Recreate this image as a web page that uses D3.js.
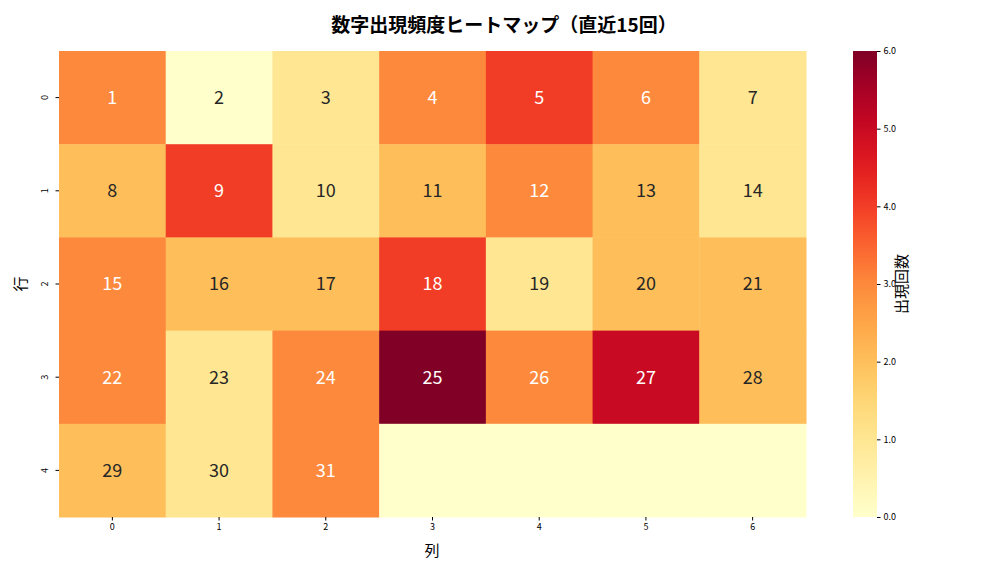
<!DOCTYPE html>
<html><head><meta charset="utf-8">
<script src="https://cdn.jsdelivr.net/npm/d3@7"></script>
<style>body{margin:0;background:#fff}text{font-family:"Noto Sans CJK JP","DejaVu Sans",sans-serif}</style>
</head><body><svg id="c" width="1008" height="576"></svg>
<script>
const rows=[0,1,2,3,4];
const cols=[0,1,2,3,4,5,6];
const numbers=[[1,2,3,4,5,6,7],[8,9,10,11,12,13,14],[15,16,17,18,19,20,21],[22,23,24,25,26,27,28],[29,30,31,null,null,null,null]];
const counts=[[3,0,1,3,4,3,1],[2,4,1,2,3,2,1],[3,2,2,4,1,2,2],[3,1,3,6,3,5,2],[2,1,3,0,0,0,0]];
const cbTicks=[0,1,2,3,4,5,6];

const svg=d3.select("#c");
const L=59,R=806,T=51,B=517;
const x=d3.scaleBand().domain(cols).range([L,R]);
const y=d3.scaleBand().domain(rows).range([T,B]);
const color=v=>d3.interpolateYlOrRd(v/6);
rows.forEach(r=>cols.forEach(c=>{
  const v=counts[r][c];
  svg.append("rect").attr("x",x(c)).attr("y",y(r)).attr("width",x.bandwidth()+0.5).attr("height",y.bandwidth()+0.5).attr("fill",color(v));
  if(numbers[r][c]!=null) svg.append("text").attr("x",x(c)+x.bandwidth()/2).attr("y",y(r)+y.bandwidth()/2).attr("dy","0.35em")
    .attr("text-anchor","middle").attr("font-size",18).attr("fill",v>=3?"#fff":"#262626").text(numbers[r][c]);
}));
const xa=svg.append("g").attr("transform",`translate(0,${B})`).call(d3.axisBottom(x).tickSize(3.5));
const ya=svg.append("g").attr("transform",`translate(${L},0)`).call(d3.axisLeft(y).tickSize(3.5));
[xa,ya].forEach(a=>{a.select(".domain").remove();a.selectAll("text").attr("font-size",9).attr("font-family","DejaVu Sans");});
ya.selectAll(".tick text").attr("transform","rotate(-90)").attr("x",0).attr("dx",0).attr("y",-11).attr("dy","0").attr("text-anchor","middle");
svg.append("text").attr("x",504).attr("y",32).attr("text-anchor","middle").attr("font-size",19).attr("font-weight","bold").text("数字出現頻度ヒートマップ（直近15回）");
svg.append("text").attr("x",432).attr("y",556).attr("text-anchor","middle").attr("font-size",15).text("列");
svg.append("text").attr("transform","translate(26,284) rotate(-90)").attr("text-anchor","middle").attr("font-size",15).text("行");
// colorbar
const cx=853,cw=24;
const cy=d3.scaleLinear().domain([0,6]).range([B,T]);
const defs=svg.append("defs");
const g=defs.append("linearGradient").attr("id","g").attr("x1",0).attr("y1",1).attr("x2",0).attr("y2",0);
d3.range(0,1.001,0.05).forEach(t=>g.append("stop").attr("offset",t).attr("stop-color",d3.interpolateYlOrRd(t)));
svg.append("rect").attr("x",cx).attr("y",T).attr("width",cw).attr("height",B-T).attr("fill","url(#g)");
const ca=svg.append("g").attr("transform",`translate(${cx+cw},0)`).call(d3.axisRight(cy).tickValues(cbTicks).tickSize(3.5));
ca.select(".domain").remove();ca.selectAll("text").attr("font-size",9).attr("font-family","DejaVu Sans");
svg.append("text").attr("transform","translate(907,284) rotate(-90)").attr("text-anchor","middle").attr("font-size",15).text("出現回数");
</script></body></html>
